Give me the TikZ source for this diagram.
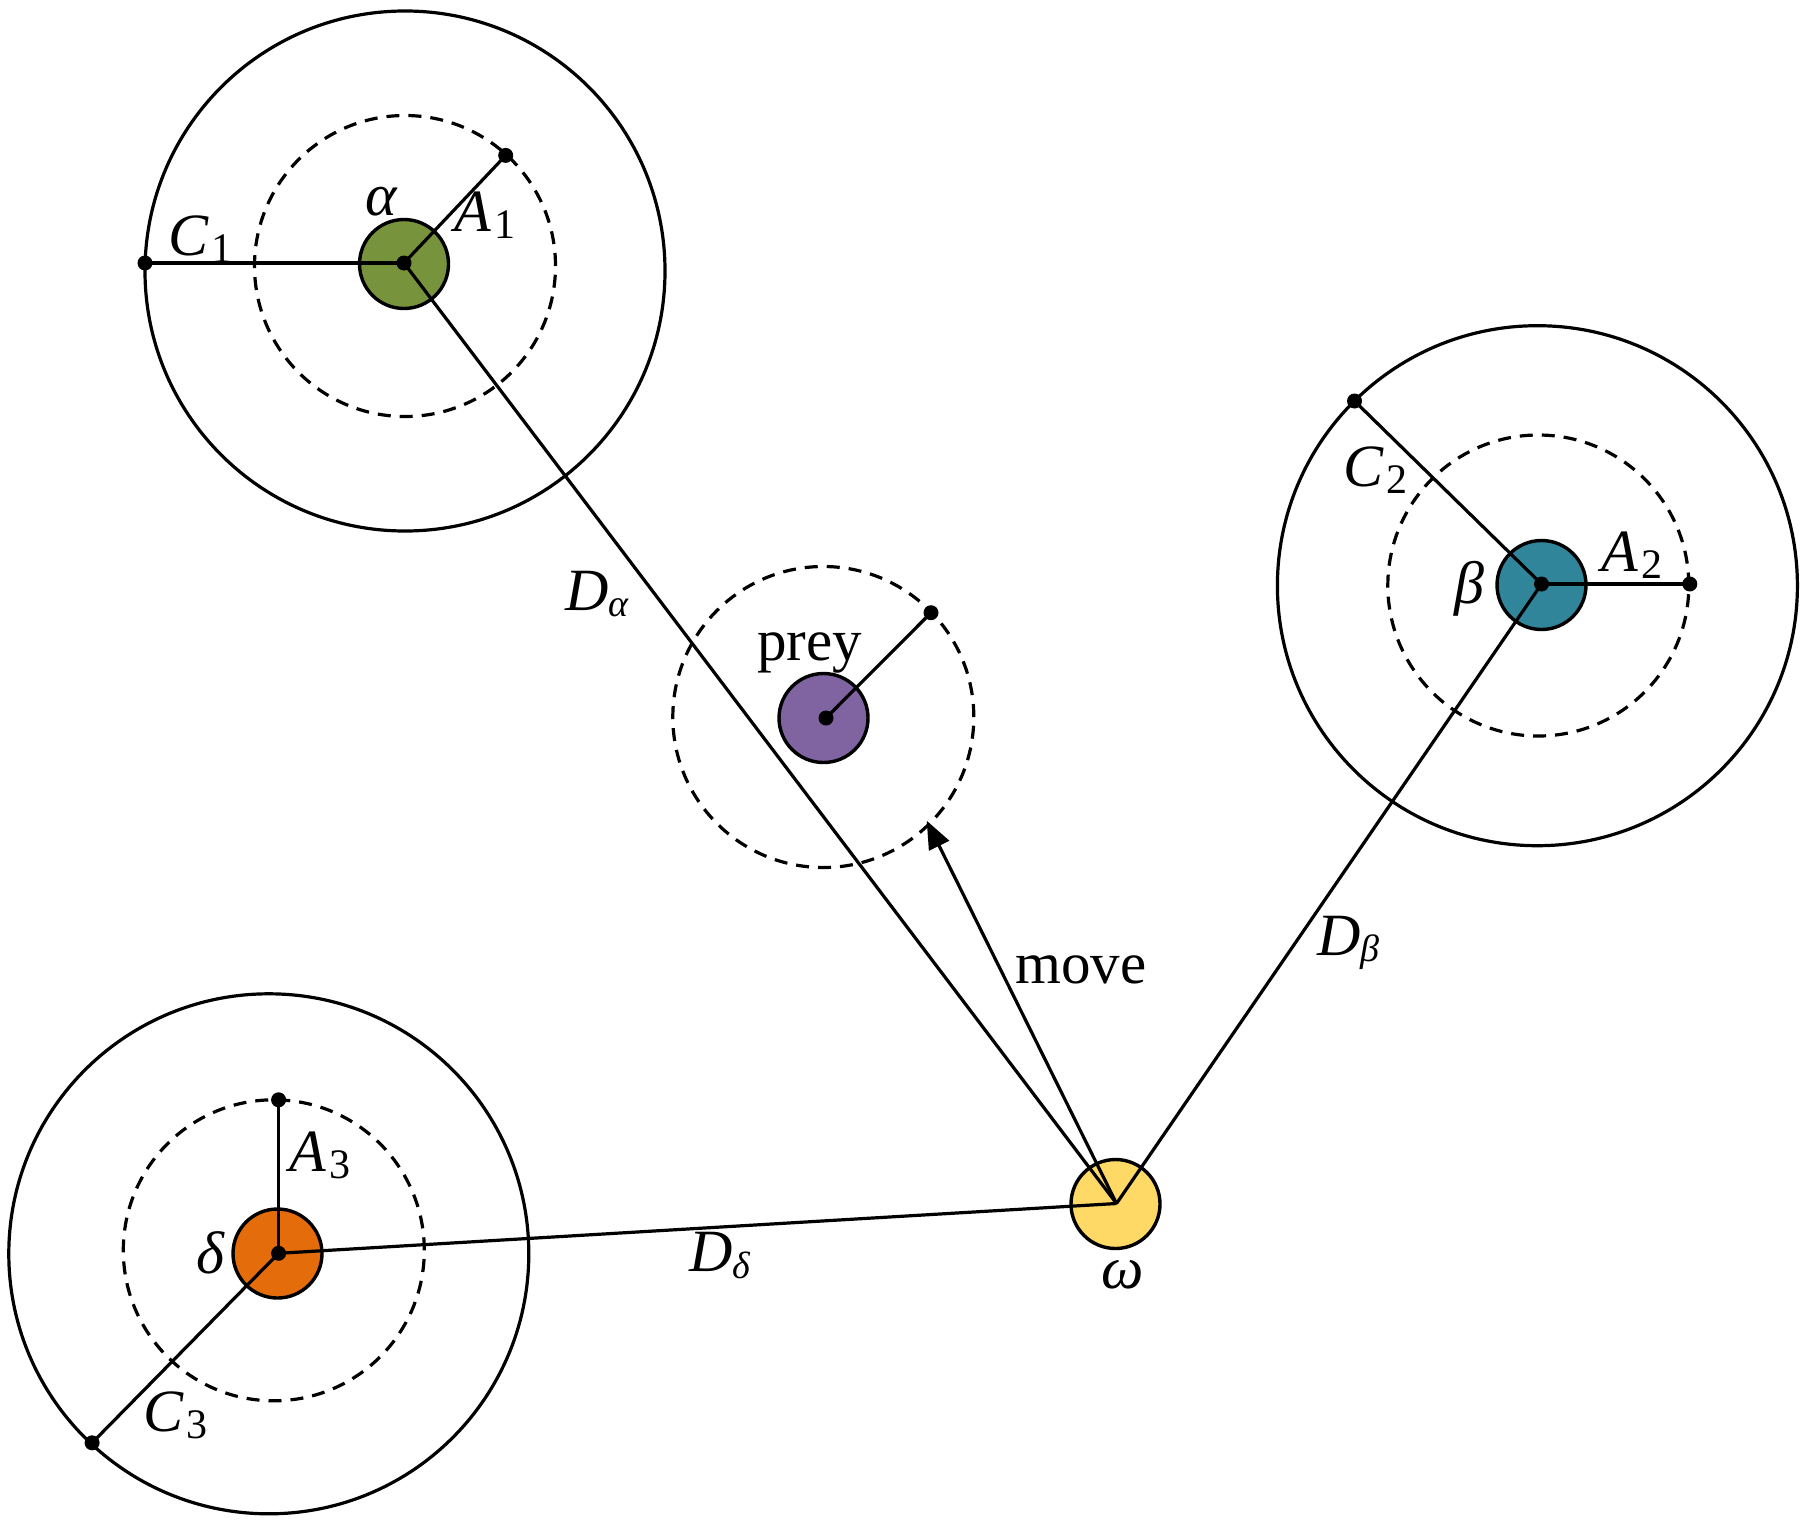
\documentclass[tikz,border=0pt]{standalone}
\usepackage{fontspec}
\setmainfont{Liberation Serif}
\usetikzlibrary{arrows.meta}
\definecolor{cgreen}{RGB}{119,147,60}
\definecolor{cteal}{RGB}{49,133,155}
\definecolor{corange}{RGB}{228,108,10}
\definecolor{cpurple}{RGB}{128,100,162}
\definecolor{cyellow}{RGB}{255,217,102}
\newcommand\gsub[2]{{\itshape #1}\raisebox{-3.3pt}{\fontsize{19pt}{19pt}\selectfont\itshape #2}}
\newcommand\nsub[2]{{\itshape #1}\kern1.5pt\raisebox{-3.5pt}{\fontsize{21pt}{21pt}\selectfont #2}}
\begin{document}
\begin{tikzpicture}[x=0.5pt,y=-0.5pt,
  ring/.style={draw=black,line width=1.6pt},
  dring/.style={draw=black,line width=1.6pt,dash pattern=on 6.5pt off 4.5pt},
  agent/.style={circle,draw=black,line width=1.7pt,minimum size=44.5pt,inner sep=0pt},
  ln/.style={draw=black,line width=1.6pt},
  dotn/.style={circle,fill=black,minimum size=7.5pt,inner sep=0pt},
  lab/.style={inner sep=0pt,font=\fontsize{30pt}{30pt}\selectfont},
  txt/.style={inner sep=0pt,font=\fontsize{29.5pt}{29.5pt}\selectfont}]
\path[use as bounding box,fill=white] (0,0) rectangle (1808,1525);

% outer and dashed rings
\draw[ring] (405,271) circle[radius=130pt];
\draw[dring] (405,266) circle[radius=75.25pt];
\draw[ring] (1537.4,585.7) circle[radius=130pt];
\draw[dring] (1538.3,585.5) circle[radius=75.25pt];
\draw[ring] (268.8,1253.8) circle[radius=130pt];
\draw[dring] (273.8,1250.3) circle[radius=75.25pt];
\draw[dring] (823.3,717) circle[radius=75.25pt];

% agents
\node[agent,fill=cgreen] (alpha) at (404,264) {};
\node[agent,fill=cteal] (beta) at (1541.5,585) {};
\node[agent,fill=corange] (delta) at (277.5,1253.5) {};
\node[agent,fill=cpurple] (prey) at (823.5,718) {};
\node[agent,fill=cyellow] (omega) at (1115.5,1204) {};

% key points
\coordinate (ac) at (404,263);
\coordinate (bc) at (1541.5,584);
\coordinate (dc) at (278.6,1253.3);
\coordinate (pc) at (826,718);
\coordinate (wc) at (1116.5,1203.5);
\coordinate (c1) at (145,263);
\coordinate (a1) at (505.7,155.4);
\coordinate (c2) at (1354.5,401);
\coordinate (a2) at (1689.8,584);
\coordinate (a3) at (278.6,1099.8);
\coordinate (c3) at (92.1,1442.8);
\coordinate (pe) at (931,612.7);
\coordinate (mt) at (926.7,820.7);

% connectors
\draw[ln] (ac) -- (c1);
\draw[ln] (ac) -- (a1);
\draw[ln] (ac) -- (wc);
\draw[ln] (bc) -- (c2);
\draw[ln] (bc) -- (a2);
\draw[ln] (bc) -- (wc);
\draw[ln] (dc) -- (a3);
\draw[ln] (dc) -- (c3);
\draw[ln] (dc) -- (wc);
\draw[ln] (pc) -- (pe);
\draw[ln,-{Triangle[length=14pt,width=11pt]}] (wc) -- (mt);

% dots
\foreach \p in {ac,c1,a1,bc,c2,a2,dc,a3,c3,pc,pe}
  \node[dotn] at (\p) {};

% labels
\node[lab] (lalpha) at (381,202) {\itshape α};
\node[lab,anchor=base west] (lc1) at (168,255) {\nsub{C}{1}};
\node[lab,anchor=base west] (la1) at (454,231.7) {\nsub{A}{1}};
\node[lab,anchor=base west] (lc2) at (1343,486) {\nsub{C}{2}};
\node[lab,anchor=base west] (la2) at (1601,571.7) {\nsub{A}{2}};
\node[lab] (lbeta) at (1469,589) {\itshape β};
\node[lab,anchor=base west] (la3) at (289,1171) {\nsub{A}{3}};
\node[lab,anchor=base west] (lc3) at (143,1431) {\nsub{C}{3}};
\node[lab] (ldelta) at (210,1252.6) {\itshape δ};
\node[lab] (lomega) at (1123,1275) {\itshape ω};
\node[lab,anchor=base west] (lda) at (565,610) {\gsub{D}{α}};
\node[lab,anchor=base west] (ldb) at (1317,955) {\gsub{D}{β}};
\node[lab,anchor=base west] (ldd) at (689,1271.7) {\gsub{D}{δ}};
\node[txt,anchor=base west] (lprey) at (757,660) {prey};
\node[txt,anchor=base west] (lmove) at (1015,983) {move};
\end{tikzpicture}
\end{document}
